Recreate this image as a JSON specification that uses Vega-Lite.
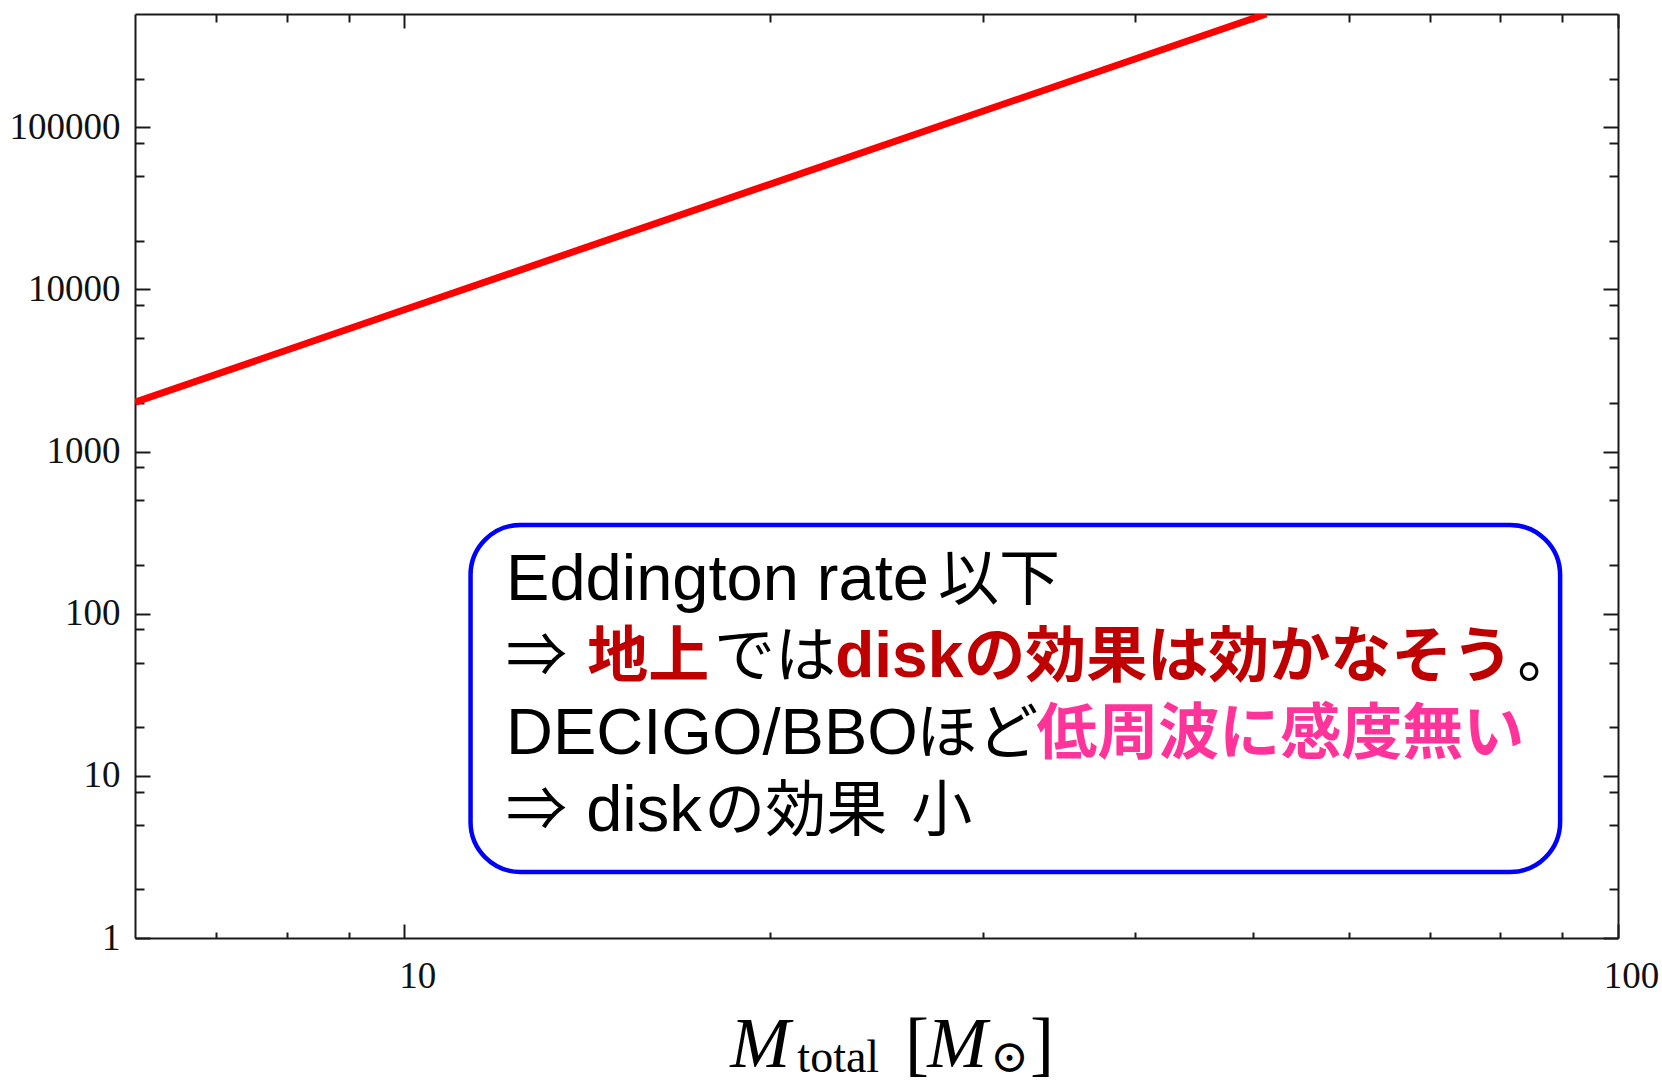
{
  "$schema": "https://vega.github.io/schema/vega-lite/v6.json",
  "width": 1483,
  "height": 924,
  "autosize": {"type": "none"},
  "padding": {"left": 135, "top": 14, "right": 44, "bottom": 144},
  "background": "white",
  "config": {
    "view": {"stroke": null},
    "axis": {
      "domainColor": "#1a1a1a",
      "domainWidth": 2,
      "tickColor": "#1a1a1a",
      "tickWidth": 2,
      "grid": false,
      "labelFont": "Liberation Serif",
      "labelFontSize": 37,
      "labelColor": "#111111",
      "labelOverlap": false,
      "labelFlush": false,
      "title": null
    }
  },
  "datasets": {
    "curve": [
      {"m": 6, "r": 2016},
      {"m": 10, "r": 7490},
      {"m": 20, "r": 44500},
      {"m": 30, "r": 126000},
      {"m": 40, "r": 264000},
      {"m": 51.3, "r": 500000}
    ],
    "box": [
      {"x0": 11.34, "x1": 89.6, "y0": 2.554, "y1": 352.7}
    ],
    "notes": [
      {"x": 12.13, "y": 121.6, "text": "Eddington rate", "tone": "plain"},
      {"x": 27.53, "y": 121.6, "text": "以下", "tone": "plain"},
      {"x": 12.13, "y": 40.72, "text": "⇒", "tone": "plain"},
      {"x": 14.15, "y": 40.72, "text": "地上", "tone": "ground"},
      {"x": 18.0, "y": 40.72, "text": "では", "tone": "plain"},
      {"x": 22.65, "y": 40.72, "text": "disk", "tone": "ground"},
      {"x": 28.93, "y": 40.72, "text": "の効果は効かなそう", "tone": "ground"},
      {"x": 82.6, "y": 40.72, "text": "。", "tone": "plain"},
      {"x": 12.13, "y": 13.64, "text": "DECIGO/BBO", "tone": "plain"},
      {"x": 26.41, "y": 13.64, "text": "ほど", "tone": "plain"},
      {"x": 33.16, "y": 13.64, "text": "低周波に感度無い", "tone": "freq"},
      {"x": 12.13, "y": 4.571, "text": "⇒", "tone": "plain"},
      {"x": 14.12, "y": 4.571, "text": "disk", "tone": "plain"},
      {"x": 17.67, "y": 4.571, "text": "の効果", "tone": "plain"},
      {"x": 26.16, "y": 4.571, "text": "小", "tone": "plain"}
    ],
    "xtitle": [
      {"x": 18.56, "y": 0.1601, "text": "M", "kind": "ital"},
      {"x": 21.08, "y": 0.1491, "text": "total", "kind": "sub"},
      {"x": 25.86, "y": 0.1601, "text": "[", "kind": "br"},
      {"x": 26.97, "y": 0.1601, "text": "M", "kind": "ital"},
      {"x": 30.39, "y": 0.1491, "text": "⊙", "kind": "sub"},
      {"x": 32.78, "y": 0.1601, "text": "]", "kind": "br"}
    ]
  },
  "resolve": {
    "scale": {"x": "shared", "y": "shared"},
    "axis": {"x": "independent", "y": "independent"}
  },
  "layer": [
    {
      "data": {"name": "box"},
      "mark": {"type": "rect", "cornerRadius": 50, "fill": "white", "stroke": "#0000ff", "strokeWidth": 4.5},
      "encoding": {
        "x": {
          "field": "x0", "type": "quantitative",
          "scale": {"type": "log", "domain": [6, 100], "nice": false, "zero": false},
          "axis": {
            "orient": "top",
            "values": [7, 8, 9, 10, 20, 30, 40, 50, 60, 70, 80, 90, 100],
            "labels": false,
            "tickSize": {"condition": {"test": "datum.value == 10 || datum.value == 100", "value": -14}, "value": -8}
          }
        },
        "x2": {"field": "x1"},
        "y": {
          "field": "y0", "type": "quantitative",
          "scale": {"type": "log", "domain": [1, 500000], "nice": false, "zero": false},
          "axis": {
            "orient": "right",
            "values": [1, 2, 5, 8, 10, 20, 50, 80, 100, 200, 500, 800, 1000, 2000, 5000, 8000, 10000, 20000, 50000, 80000, 100000, 200000],
            "labels": false,
            "tickSize": {"condition": {"test": "indexof([1,10,100,1000,10000,100000], datum.value) >= 0", "value": -15}, "value": -9}
          }
        },
        "y2": {"field": "y1"}
      }
    },
    {
      "data": {"name": "curve"},
      "mark": {"type": "line", "color": "#ff0000", "strokeWidth": 7, "clip": true},
      "encoding": {
        "x": {
          "field": "m", "type": "quantitative",
          "scale": {"type": "log", "domain": [6, 100], "nice": false, "zero": false},
          "axis": {
            "orient": "bottom",
            "values": [7, 8, 9, 10, 20, 30, 40, 50, 60, 70, 80, 90, 100],
            "labelExpr": "(datum.value == 10 || datum.value == 100) ? format(datum.value, 'd') : ''",
            "tickSize": {"condition": {"test": "datum.value == 10 || datum.value == 100", "value": -14}, "value": -6},
            "labelPadding": 34,
            "labelOffset": 13,
            "labelBaseline": "top"
          }
        },
        "y": {
          "field": "r", "type": "quantitative",
          "scale": {"type": "log", "domain": [1, 500000], "nice": false, "zero": false},
          "axis": {
            "orient": "left",
            "values": [1, 2, 5, 8, 10, 20, 50, 80, 100, 200, 500, 800, 1000, 2000, 5000, 8000, 10000, 20000, 50000, 80000, 100000, 200000],
            "labelExpr": "indexof([1,10,100,1000,10000,100000], datum.value) >= 0 ? format(datum.value, 'd') : ''",
            "tickSize": {"condition": {"test": "indexof([1,10,100,1000,10000,100000], datum.value) >= 0", "value": -15}, "value": -9},
            "labelPadding": 30,
            "labelBaseline": "middle"
          }
        }
      }
    },
    {
      "data": {"name": "notes"},
      "transform": [{"filter": "datum.tone == 'plain' && test(/^[ -~]+$/, datum.text)"}],
      "mark": {"type": "text", "align": "left", "baseline": "alphabetic", "font": "Liberation Sans", "fontSize": 65, "color": "#000000"},
      "encoding": {
        "x": {"field": "x", "type": "quantitative", "scale": {"type": "log", "domain": [6, 100], "nice": false}, "axis": null},
        "y": {"field": "y", "type": "quantitative", "scale": {"type": "log", "domain": [1, 500000], "nice": false}, "axis": null},
        "text": {"field": "text"}
      }
    },
    {
      "data": {"name": "notes"},
      "transform": [{"filter": "datum.tone == 'plain' && !test(/^[ -~]+$/, datum.text)"}],
      "mark": {"type": "text", "align": "left", "baseline": "alphabetic", "font": "Noto Sans CJK JP", "fontSize": 61, "color": "#000000"},
      "encoding": {
        "x": {"field": "x", "type": "quantitative", "scale": {"type": "log", "domain": [6, 100], "nice": false}, "axis": null},
        "y": {"field": "y", "type": "quantitative", "scale": {"type": "log", "domain": [1, 500000], "nice": false}, "axis": null},
        "text": {"field": "text"}
      }
    },
    {
      "data": {"name": "notes"},
      "transform": [{"filter": "datum.tone != 'plain' && test(/^[ -~]+$/, datum.text)"}],
      "mark": {"type": "text", "align": "left", "baseline": "alphabetic", "font": "Liberation Sans", "fontSize": 64, "fontWeight": "bold"},
      "encoding": {
        "x": {"field": "x", "type": "quantitative", "scale": {"type": "log", "domain": [6, 100], "nice": false}, "axis": null},
        "y": {"field": "y", "type": "quantitative", "scale": {"type": "log", "domain": [1, 500000], "nice": false}, "axis": null},
        "text": {"field": "text"},
        "color": {"field": "tone", "type": "nominal", "scale": {"domain": ["ground", "freq"], "range": ["#c00000", "#ff3399"]}, "legend": null}
      }
    },
    {
      "data": {"name": "notes"},
      "transform": [{"filter": "datum.tone != 'plain' && !test(/^[ -~]+$/, datum.text)"}],
      "mark": {"type": "text", "align": "left", "baseline": "alphabetic", "font": "Noto Sans CJK JP", "fontSize": 61, "fontWeight": "bold"},
      "encoding": {
        "x": {"field": "x", "type": "quantitative", "scale": {"type": "log", "domain": [6, 100], "nice": false}, "axis": null},
        "y": {"field": "y", "type": "quantitative", "scale": {"type": "log", "domain": [1, 500000], "nice": false}, "axis": null},
        "text": {"field": "text"},
        "color": {"field": "tone", "type": "nominal", "scale": {"domain": ["ground", "freq"], "range": ["#c00000", "#ff3399"]}, "legend": null}
      }
    },
    {
      "data": {"name": "xtitle"},
      "transform": [{"filter": "datum.kind == 'ital'"}],
      "mark": {"type": "text", "align": "left", "baseline": "alphabetic", "font": "Liberation Serif", "fontSize": 72, "fontStyle": "italic", "color": "#000000"},
      "encoding": {
        "x": {"field": "x", "type": "quantitative", "scale": {"type": "log", "domain": [6, 100], "nice": false}, "axis": null},
        "y": {"field": "y", "type": "quantitative", "scale": {"type": "log", "domain": [1, 500000], "nice": false}, "axis": null},
        "text": {"field": "text"}
      }
    },
    {
      "data": {"name": "xtitle"},
      "transform": [{"filter": "datum.kind == 'sub'"}],
      "mark": {"type": "text", "align": "left", "baseline": "alphabetic", "font": "Liberation Serif, DejaVu Serif", "fontSize": 46, "color": "#000000"},
      "encoding": {
        "x": {"field": "x", "type": "quantitative", "scale": {"type": "log", "domain": [6, 100], "nice": false}, "axis": null},
        "y": {"field": "y", "type": "quantitative", "scale": {"type": "log", "domain": [1, 500000], "nice": false}, "axis": null},
        "text": {"field": "text"}
      }
    },
    {
      "data": {"name": "xtitle"},
      "transform": [{"filter": "datum.kind == 'br'"}],
      "mark": {"type": "text", "align": "left", "baseline": "alphabetic", "font": "Liberation Serif", "fontSize": 72, "color": "#000000"},
      "encoding": {
        "x": {"field": "x", "type": "quantitative", "scale": {"type": "log", "domain": [6, 100], "nice": false}, "axis": null},
        "y": {"field": "y", "type": "quantitative", "scale": {"type": "log", "domain": [1, 500000], "nice": false}, "axis": null},
        "text": {"field": "text"}
      }
    }
  ]
}
